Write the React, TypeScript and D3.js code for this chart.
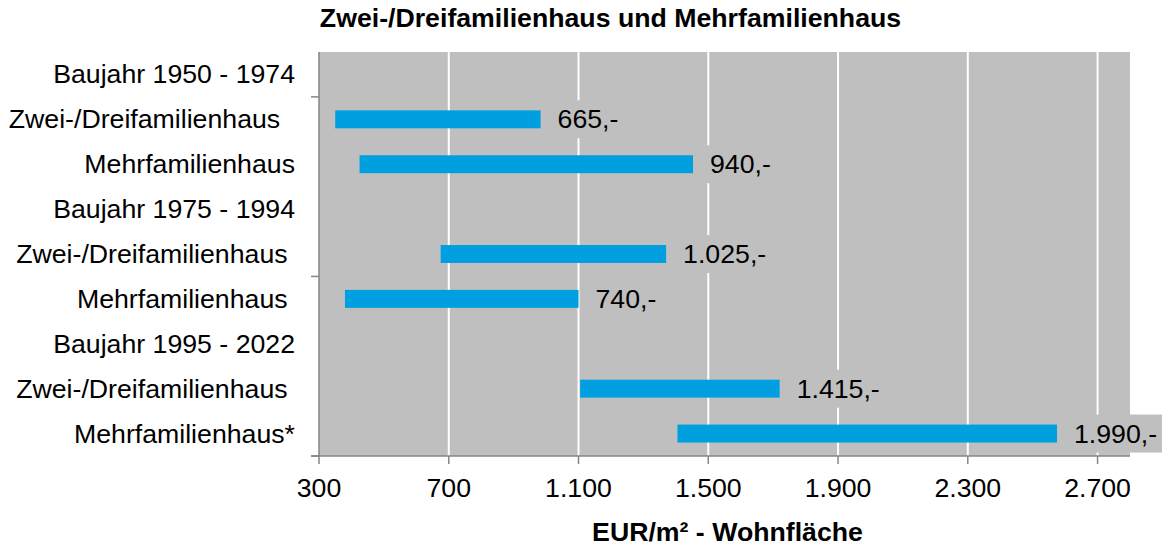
import React from "react";
import * as d3 from "d3";

// categories (top to bottom), trailing spaces are part of the labels in the source
const categories = [
    "Baujahr 1950 - 1974",
    "Zwei-/Dreifamilienhaus  ",
    "Mehrfamilienhaus",
    "Baujahr 1975 - 1994",
    "Zwei-/Dreifamilienhaus ",
    "Mehrfamilienhaus ",
    "Baujahr 1995 - 2022",
    "Zwei-/Dreifamilienhaus ",
    "Mehrfamilienhaus*",
];
// price range (min / max) per category, null for the group headers
const rangeMin = [null, 350, 425, null, 675, 380, null, 1105, 1405];
const rangeMax = [null, 983, 1453, null, 1370, 1100, null, 1720, 2575];
const valueLabels = [null, "665,-", "940,-", null, "1.025,-", "740,-", null, "1.415,-", "1.990,-"];
const xTicks = [300, 700, 1100, 1500, 1900, 2300, 2700];
const xDomain = [300, 2800];

const title = "Zwei-/Dreifamilienhaus und Mehrfamilienhaus";
const xTitle = "EUR/m² - Wohnfläche";

const W = 1162;
const H = 546;
const margin = {top: 52, right: 32, bottom: 90, left: 319};
const font = "'Liberation Sans', Arial, sans-serif";
const fs = 26.7;
const plotBg = "#bfbfbf";
const axisColor = "#868686";
const barColor = "#009fdf";

const fmt = (v: number) => d3.format(",")(v).replace(/,/g, ".");

export default function App() {
    const x = d3.scaleLinear().domain(xDomain).range([margin.left, W - margin.right]);
    const y = d3
        .scaleBand()
        .domain(categories.map((_, i) => String(i)))
        .range([margin.top, H - margin.bottom])
        .paddingInner(0.6)
        .paddingOuter(0.3);
    const step = y.step();
    const x0 = margin.left;
    const x1 = W - margin.right;
    const y0 = margin.top;
    const y1 = H - margin.bottom;
    // major tick marks every 4 categories counted from the bottom
    const yTicks = d3.range(0, categories.length + 1, 4).map((k) => y1 - k * step);

    return (
        <svg width={W} height={H} style={{position: "absolute", left: 0, top: 0, background: "#fff"}}
             fontFamily={font}>
            <text x={610.5} y={27} textAnchor="middle" fontSize={fs} fontWeight="bold">{title}</text>

            <rect x={x0} y={y0} width={x1 - x0} height={y1 - y0} fill={plotBg}/>
            {xTicks.slice(1).map((t) => (
                <line key={t} x1={x(t)} x2={x(t)} y1={y0} y2={y1} stroke="#fff" strokeWidth={2}/>
            ))}

            {categories.map((c, i) => {
                const lo = rangeMin[i];
                const hi = rangeMax[i];
                const cy = (y(String(i)) || 0) + y.bandwidth() / 2;
                return (
                    <g key={i}>
                        <text x={295} y={cy} textAnchor="end" dominantBaseline="central" fontSize={fs}
                              style={{whiteSpace: "pre"}}>{c}</text>
                        {lo != null && hi != null && (
                            <rect x={x(lo)} y={y(String(i))} width={x(hi) - x(lo)} height={y.bandwidth()}
                                  fill={barColor}/>
                        )}
                    </g>
                );
            })}

            {categories.map((_, i) => {
                const hi = rangeMax[i];
                const lbl = valueLabels[i];
                if (hi == null || lbl == null) return null;
                const cy = (y(String(i)) || 0) + y.bandwidth() / 2;
                const tx = x(hi) + 17;
                const tw = lbl.length * fs * 0.45;
                return (
                    <g key={"l" + i}>
                        <rect x={tx - 14} y={cy - 19} width={tw + 26} height={38} fill={plotBg}/>
                        <text x={tx} y={cy} dominantBaseline="central" fontSize={fs}>{lbl}</text>
                    </g>
                );
            })}

            <line x1={x0} x2={x0} y1={y0} y2={y1} stroke={axisColor} strokeWidth={1.5}/>
            {yTicks.map((t, i) => (
                <line key={i} x1={x0 - 8} x2={x0} y1={t} y2={t} stroke={axisColor} strokeWidth={1.5}/>
            ))}
            <line x1={x0 - 8} x2={x1} y1={y1} y2={y1} stroke={axisColor} strokeWidth={1.5}/>
            {xTicks.map((t) => (
                <g key={t}>
                    <line x1={x(t)} x2={x(t)} y1={y1} y2={y1 + 8} stroke={axisColor} strokeWidth={1.5}/>
                    <text x={x(t)} y={497} textAnchor="middle" fontSize={fs}>{fmt(t)}</text>
                </g>
            ))}

            <text x={727.5} y={541} textAnchor="middle" fontSize={fs} fontWeight="bold">{xTitle}</text>
        </svg>
    );
}
